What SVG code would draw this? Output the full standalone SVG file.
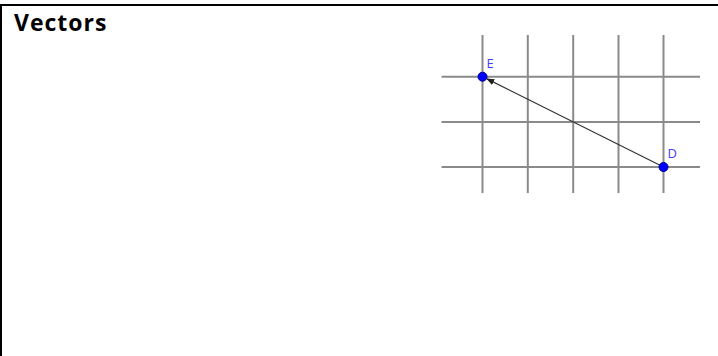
<svg xmlns="http://www.w3.org/2000/svg" width="718" height="356" viewBox="0 0 718 356">
<style>
.grid{stroke:#8a8a8a;stroke-width:2;fill:none}
.pt{fill:#0000ff;stroke:#00008b;stroke-width:1}
.lbl{font-family:"Open Sans","Liberation Sans",sans-serif;font-size:13px;fill:#4040ff}
.title{font-family:"Open Sans","Liberation Sans",sans-serif;font-weight:bold;font-size:23px;fill:#000}
</style>
<defs>
<marker id="ah" viewBox="0 0 10 10" refX="9" refY="5" markerWidth="8" markerHeight="8" markerUnits="userSpaceOnUse" orient="auto">
<path d="M0,1 L10,5 L0,9 Z" fill="#222"/>
</marker>
</defs>
<rect x="0" y="0" width="718" height="356" fill="#fff"/>
<line x1="0" y1="5" x2="718" y2="5" stroke="#000" stroke-width="2"/>
<line x1="1" y1="4" x2="1" y2="356" stroke="#000" stroke-width="2"/>
<text class="title" x="14" y="30.5" letter-spacing="1">Vectors</text>
<g id="grid">
<line class="grid" x1="482.5" y1="35" x2="482.5" y2="193"/>
<line class="grid" x1="527.8" y1="35" x2="527.8" y2="193"/>
<line class="grid" x1="573.2" y1="35" x2="573.2" y2="193"/>
<line class="grid" x1="618.5" y1="35" x2="618.5" y2="193"/>
<line class="grid" x1="663.5" y1="35" x2="663.5" y2="193"/>
<line class="grid" x1="441.5" y1="76.7" x2="700" y2="76.7"/>
<line class="grid" x1="441.5" y1="122" x2="700" y2="122"/>
<line class="grid" x1="441.5" y1="167" x2="700" y2="167"/>
</g>
<g id="connectors">
<line x1="663.5" y1="167" x2="487" y2="78.9" stroke="#333" stroke-width="1.2" marker-end="url(#ah)"/>
</g>
<g id="E">
<circle class="pt" cx="482.5" cy="76.7" r="4.5"/>
<text class="lbl" x="486.5" y="67.5">E</text>
</g>
<g id="D">
<circle class="pt" cx="663.5" cy="167" r="4.5"/>
<text class="lbl" x="667.5" y="158">D</text>
</g>
</svg>
